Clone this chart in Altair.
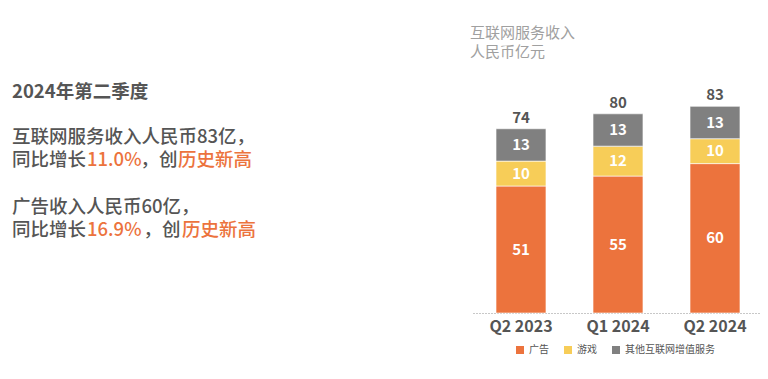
import altair as alt
import pandas as pd

quarters = ["Q2 2023", "Q1 2024", "Q2 2024"]
series = ["广告", "游戏", "其他互联网增值服务"]
ads = [51, 55, 60]
games = [10, 12, 10]
other = [13, 13, 13]
totals = [74, 80, 83]
colors = ["#EC733D", "#F7CD58", "#808080"]

title_lines = ["互联网服务收入", "人民币亿元"]
headline = "2024年第二季度"
line1 = "互联网服务收入人民币83亿，"
line2 = ["同比增长", "11.0%", "，创", "历史新高"]
line3 = "广告收入人民币60亿，"
line4 = ["同比增长", "16.9%", "，创", "历史新高"]

FONT = "Noto Sans CJK SC"
DARK = "#555555"
ORANGE = "#EC733D"

rows = []
for i, q in enumerate(quarters):
    base = 0
    for k, (s, vals) in enumerate(zip(series, [ads, games, other])):
        v = vals[i]
        rows.append({"q": q, "s": s, "v": v, "order": k,
                     "y0": base, "y1": base + v, "mid": base + v / 2})
        base += v
df = pd.DataFrame(rows)
tot = pd.DataFrame({"q": quarters, "t": totals})

xscale = alt.Scale(domain=quarters, range=[464.5, 755.5], paddingInner=0.485, paddingOuter=0.2425)
yscale = alt.Scale(domain=[0, 100], range=[305, 56])
x = alt.X("q:N", scale=xscale, sort=quarters,
          axis=alt.Axis(title=None, labelAngle=0, labelFontSize=16, labelFontWeight="bold",
                        labelColor=DARK, labelFont=FONT, ticks=False, domainColor="#c8c8c8",
                        domainDash=[2, 1], labelPadding=5))

bars = alt.Chart(df).mark_bar(stroke="white", strokeWidth=0.6).encode(
    x=x,
    y=alt.Y("y0:Q", scale=yscale, axis=None),
    y2="y1:Q",
    color=alt.Color("s:N", scale=alt.Scale(domain=series, range=colors),
                    legend=alt.Legend(title=None, orient="none", direction="horizontal",
                                      legendX=507, legendY=337, symbolType="square",
                                      symbolSize=64, symbolStrokeWidth=0, labelFont=FONT,
                                      labelFontSize=10, labelColor=DARK, columnPadding=14,
                                      labelOffset=4, padding=0)),
)

seg_text = alt.Chart(df).mark_text(color="white", fontSize=15, fontWeight="bold", font=FONT,
                                   baseline="middle").encode(
    x=alt.X("q:N", scale=xscale, sort=quarters),
    y=alt.Y("mid:Q", scale=yscale),
    text="v:Q",
)

tot_text = alt.Chart(tot).mark_text(color=DARK, fontSize=15, fontWeight="bold", font=FONT,
                                    baseline="bottom", dy=-3).encode(
    x=alt.X("q:N", scale=xscale, sort=quarters),
    y=alt.Y("t:Q", scale=yscale),
    text="t:Q",
)


def txt(s, xp, yp, color=DARK, size=18.5, weight=500):
    return alt.Chart(pd.DataFrame({"t": [s]})).mark_text(
        align="left", baseline="middle", font=FONT, fontSize=size, fontWeight=weight, color=color
    ).encode(text="t:N", x=alt.value(xp), y=alt.value(yp))


layers = [bars, seg_text, tot_text,
          txt(title_lines[0], 462, 25, color="#a0a0a0", size=15, weight=400),
          txt(title_lines[1], 462, 44, color="#a0a0a0", size=15, weight=400),
          txt(headline, 4, 83.5, weight="bold"),
          txt(line1, 4, 128.5),
          txt(line2[0], 4, 152), txt(line2[1], 79, 152, color=ORANGE),
          txt(line2[2], 132.5, 152), txt(line2[3], 170, 152, color=ORANGE),
          txt(line3, 4, 198.5),
          txt(line4[0], 4, 222), txt(line4[1], 79, 222, color=ORANGE),
          txt(line4[2], 135.5, 222), txt(line4[3], 174, 222, color=ORANGE),
          ]

chart = alt.layer(*layers).properties(
    width=752, height=305, background="white",
    padding={"left": 0, "top": 0, "right": 0, "bottom": 58},
    autosize=alt.AutoSizeParams(type="none"),
).configure_view(strokeWidth=0, stroke=None)

chart.save("out.html", embed_options={"renderer": "svg", "actions": False})
